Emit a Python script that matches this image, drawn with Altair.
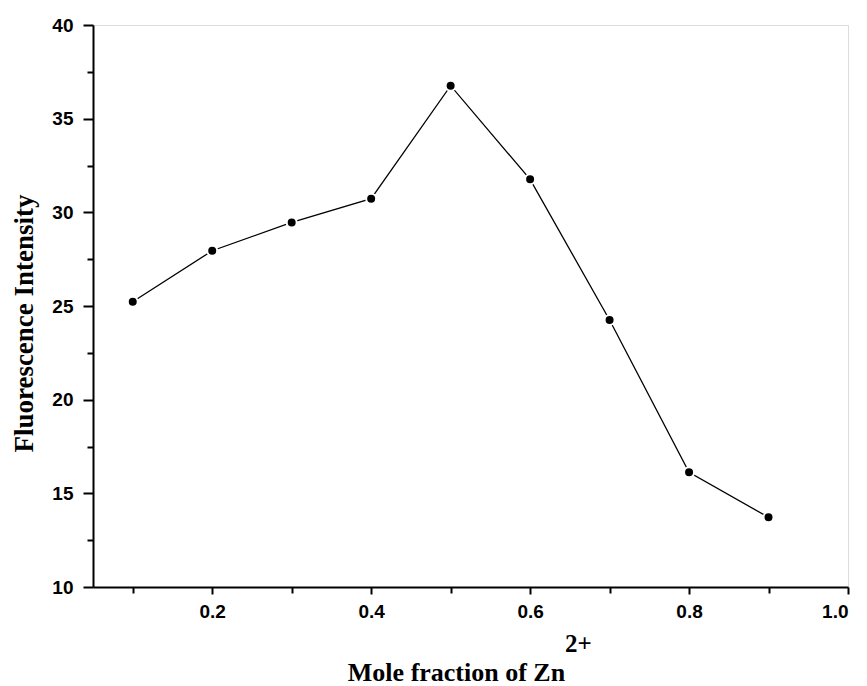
import altair as alt
import pandas as pd

mole_fraction = [0.1, 0.2, 0.3, 0.4, 0.5, 0.6, 0.7, 0.8, 0.9]
intensity = [25.23, 27.95, 29.46, 30.73, 36.76, 31.76, 24.25, 16.12, 13.72]

x_ticks = [0.1, 0.2, 0.3, 0.4, 0.5, 0.6, 0.7, 0.8, 0.9, 1.0]
y_ticks = [10, 12.5, 15, 17.5, 20, 22.5, 25, 27.5, 30, 32.5, 35, 37.5, 40]

df = pd.DataFrame({"x": mole_fraction, "y": intensity})

W, H = 755, 562
serif = "Liberation Serif"
sans = "Liberation Sans"

x_axis = alt.Axis(
    values=x_ticks,
    labelExpr="round(datum.value*10) % 2 === 0 ? format(datum.value, '.1f') : ''",
    tickSize={"condition": {"test": "round(datum.value*10) % 2 === 0", "value": 7}, "value": 6},
    title="Mole fraction of Zn",
    titleFont=serif, titleFontSize=26, titleFontWeight="bold", titleColor="black",
    titleX=363, titleY=93, titleBaseline="alphabetic", titleAlign="center", titleAnchor="start",
    labelFont=sans, labelFontSize=19, labelFontWeight="bold", labelColor="black",
    labelPadding=8, grid=False, domainColor="black", domainWidth=2,
    tickColor="black", tickWidth=2,
)
y_axis = alt.Axis(
    values=y_ticks,
    labelExpr="datum.value % 5 === 0 ? datum.value : ''",
    tickSize={"condition": {"test": "datum.value % 5 === 0", "value": 10}, "value": 6},
    title="Fluorescence Intensity",
    titleFont=serif, titleFontSize=27, titleFontWeight="bold", titleColor="black",
    titleX=-61, titleY=298, titleBaseline="alphabetic", titleAlign="center", titleAngle=-90,
    labelFont=sans, labelFontSize=19, labelFontWeight="bold", labelColor="black",
    labelPadding=10, grid=False, domainColor="black", domainWidth=2,
    tickColor="black", tickWidth=2,
)

x_enc = alt.X("x:Q", scale=alt.Scale(domain=[0.05, 1.0], nice=False, zero=False), axis=x_axis)
y_enc = alt.Y("y:Q", scale=alt.Scale(domain=[10, 40], nice=False, zero=False), axis=y_axis)

line = alt.Chart(df).mark_line(color="black", strokeWidth=1.3).encode(x=x_enc, y=y_enc)
pts = alt.Chart(df).mark_circle(size=100, color="black", opacity=1, stroke="white", strokeWidth=2).encode(x=x_enc, y=y_enc)

sup = alt.Chart(pd.DataFrame({"t": ["2+"]})).mark_text(
    font=serif, fontSize=25, fontWeight="bold", color="black", align="left", baseline="alphabetic", clip=False
).encode(text="t:N", x=alt.value(472), y=alt.value(627))

chart = alt.layer(line, pts, sup).properties(
    width=W, height=H,
    autosize=alt.AutoSizeParams(type="none"),
    padding={"left": 93, "top": 25, "right": 19, "bottom": 99},
).configure_view(stroke="black", strokeWidth=2).configure(background="white")

chart.save("out.html", embed_options={"renderer": "svg", "actions": False})
